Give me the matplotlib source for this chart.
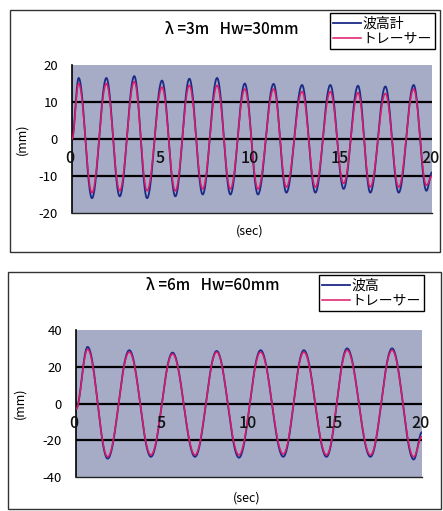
import numpy as np
import matplotlib
matplotlib.use("Agg")
import matplotlib.pyplot as plt
from matplotlib.patches import Rectangle

plt.rcParams['font.family'] = ['Noto Sans CJK JP', 'DejaVu Sans']

# ---------------- data ----------------
# Panel 1: lambda = 3 m, Hw = 30 mm  -- extremum times (s) and values (mm)
t1_ext = [0.0, 0.37, 1.11, 1.91, 2.65, 3.46, 4.17, 5.00, 5.74, 6.52, 7.26, 8.06, 8.80,
          9.60, 10.33, 11.20, 11.91, 12.78, 13.52, 14.35, 15.09, 15.89, 16.57,
          17.41, 18.15, 18.98, 19.69, 20.0]
gauge1 = [0.0, 16.5, -16.0, 16.5, -15.5, 17.0, -16.0, 15.8, -15.5, 16.3, -15.0, 16.5, -15.0,
          15.0, -15.0, 14.9, -14.5, 14.6, -14.5, 14.6, -13.5, 14.4, -14.5,
          14.2, -14.5, 14.6, -14.0, -9.0]
tracer1 = [0.0, 15.0, -14.5, 15.0, -14.0, 15.5, -14.0, 14.0, -14.0, 14.5, -13.5, 14.5, -13.5,
           13.5, -13.5, 13.5, -13.0, 12.8, -13.0, 12.8, -12.0, 12.5, -13.0,
           12.3, -13.0, 13.5, -12.5, -10.0]

# Panel 2: lambda = 6 m, Hw = 60 mm
t2_ext = [0.0, 0.67, 1.83, 3.08, 4.33, 5.58, 6.88, 8.13, 9.42, 10.67, 11.98,
          13.17, 14.48, 15.67, 17.02, 18.27, 19.52, 20.0]
gauge2 = [-3.0, 30.8, -30.0, 29.0, -29.0, 27.7, -29.0, 28.6, -29.5, 29.0, -29.0,
          29.0, -29.0, 30.0, -29.0, 30.0, -30.5, -15.6]
tracer2 = [-3.0, 29.5, -29.0, 28.0, -28.0, 27.0, -28.0, 28.0, -28.0, 28.0, -27.5,
           28.0, -28.0, 29.0, -28.0, 29.0, -29.0, -18.0]

titles = ["λ =3m   Hw=30mm", "λ =6m   Hw=60mm"]
legend_names = [["波高計", "トレーサー"], ["波高", "トレーサー"]]
yticks = [[20, 10, 0, -10, -20], [40, 20, 0, -20, -40]]
xticks = [0, 5, 10, 15, 20]


def smooth(tk, vk, n=40):
    """Half-cosine segments between successive extrema."""
    ts, vs = [], []
    for i in range(len(tk) - 1):
        s = np.linspace(0, 1, n, endpoint=False)
        ts.append(tk[i] + (tk[i + 1] - tk[i]) * s)
        vs.append(vk[i] + (vk[i + 1] - vk[i]) * (1 - np.cos(np.pi * s)) / 2)
    ts.append([tk[-1]])
    vs.append([vk[-1]])
    return np.concatenate(ts), np.concatenate(vs)


W, H = 443, 511
fig = plt.figure(figsize=(W / 100, H / 100), dpi=100)
fig.patch.set_facecolor('white')

BG = '#a6abc6'
BLUE = '#1c2a86'
RED = '#e0186a'

panels = [
    dict(ax=(72, 65, 432, 213), box=(10, 10, 440, 252), t=t1_ext, g=gauge1, r=tracer1,
         title_xy=(232, 29), leg=(435, 13), ylab=(22, 139), xlab=(250, 231)),
    dict(ax=(76, 330, 422, 477), box=(8, 272, 441, 509), t=t2_ext, g=gauge2, r=tracer2,
         title_xy=(213, 285), leg=(424, 275), ylab=(20, 403), xlab=(247, 498)),
]

for k, p in enumerate(panels):
    x0, y0, x1, y1 = p['ax']
    bx0, by0, bx1, by1 = p['box']
    fig.patches.append(Rectangle((bx0 / W, 1 - by1 / H), (bx1 - bx0) / W, (by1 - by0) / H,
                                 transform=fig.transFigure, fill=False, ec='#333333', lw=1.0))
    ax = fig.add_axes([x0 / W, 1 - y1 / H, (x1 - x0) / W, (y1 - y0) / H])
    ax.set_facecolor(BG)
    ymax = yticks[k][0]
    ax.set_xlim(0, 20)
    ax.set_ylim(-ymax, ymax)
    for yv in yticks[k][1:-1]:
        ax.axhline(yv, color='black', lw=1.6, zorder=1)
    tg, vg = smooth(p['t'], p['g'])
    tr, vr = smooth(p['t'], p['r'])
    lg, = ax.plot(tg, vg, color=BLUE, lw=1.3, zorder=2)
    lr, = ax.plot(tr, vr, color=RED, lw=1.1, zorder=3)
    for s in ['top', 'right']:
        ax.spines[s].set_visible(False)
    ax.spines['left'].set_color('black')
    ax.spines['left'].set_linewidth(1.2)
    ax.spines['bottom'].set_color('#222222')
    ax.spines['bottom'].set_linewidth(1.0)
    ax.set_yticks(yticks[k])
    ax.set_yticklabels([str(v) for v in yticks[k]], fontsize=9.5)
    ax.tick_params(axis='y', length=0, pad=10)
    ax.set_xticks([])
    for xv in xticks:
        ax.text(xv - 0.1, -0.15 * ymax, str(xv), ha='center', va='top', fontsize=11.5,
                fontweight='medium', color='#111111', zorder=5)
    fig.text(p['title_xy'][0] / W, 1 - p['title_xy'][1] / H, titles[k], ha='center',
             va='center', fontsize=11, fontweight='medium')
    fig.text(p['ylab'][0] / W, 1 - p['ylab'][1] / H, "(mm)", ha='center', va='center',
             rotation=90, fontsize=9)
    fig.text(p['xlab'][0] / W, 1 - p['xlab'][1] / H, "(sec)", ha='center', va='center',
             fontsize=9)
    leg = fig.legend([lg, lr], legend_names[k], loc='upper right',
                     bbox_to_anchor=(p['leg'][0] / W, 1 - p['leg'][1] / H),
                     bbox_transform=fig.transFigure, fontsize=10, frameon=True,
                     fancybox=False, edgecolor='black', framealpha=1, borderpad=0.25,
                     handlelength=2.0, handletextpad=0.1, labelspacing=0.1, borderaxespad=0)
    leg.get_frame().set_linewidth(1.0)

fig.savefig('out.png', dpi=100, facecolor='white')
